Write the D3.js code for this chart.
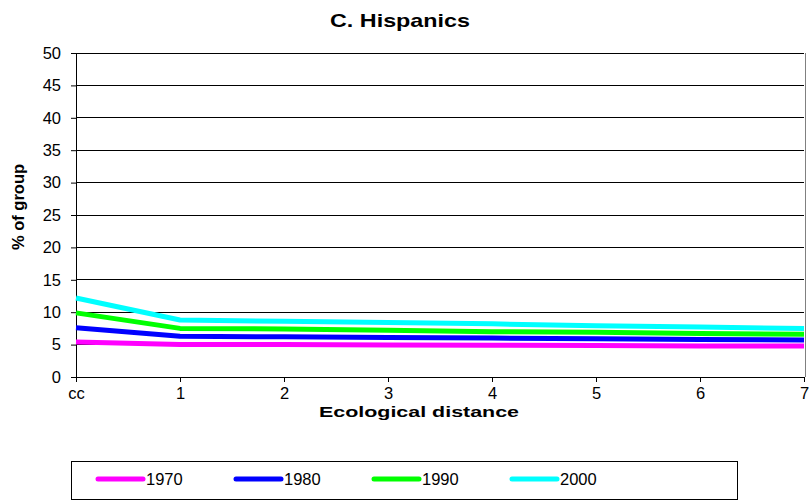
<!DOCTYPE html>
<html><head><meta charset="utf-8">
<script src="https://cdn.jsdelivr.net/npm/d3@7"></script>
<style>body{margin:0;background:#fff}svg{display:block}text{font-family:"Liberation Sans",Arial,sans-serif}</style>
</head><body><svg id="c" width="809" height="501"></svg>
<script>
const categories = ["cc","1","2","3","4","5","6","7"];
const yTicks = [0,5,10,15,20,25,30,35,40,45,50];
const seriesNames = ["1970","1980","1990","2000"];
const seriesColors = ["#ff00ff","#0000ff","#00ff00","#00ffff"];
const s1970 = [5.4,5.0,5.0,4.95,4.9,4.85,4.8,4.8];
const s1980 = [7.6,6.3,6.2,6.1,6.0,5.9,5.8,5.7];
const s1990 = [9.9,7.5,7.4,7.2,7.0,6.9,6.7,6.6];
const s2000 = [12.2,8.8,8.6,8.4,8.2,7.9,7.7,7.5];
const seriesValues = [s1970,s1980,s1990,s2000];

const svg = d3.select("#c");
const L=76,R=804,T=53,B=377;
const x = d3.scalePoint().domain(categories).range([L,R]);
const y = d3.scaleLinear().domain([0,50]).range([B,T]);

// gridlines
svg.append("g").selectAll("line").data(yTicks.filter(d=>d>0)).join("line")
  .attr("x1",L).attr("x2",R).attr("y1",d=>y(d)).attr("y2",d=>y(d))
  .attr("stroke","#000").attr("stroke-width",1).attr("shape-rendering","crispEdges");
// right border
svg.append("line").attr("x1",R+1).attr("x2",R+1).attr("y1",T).attr("y2",B)
  .attr("stroke","#808080").attr("shape-rendering","crispEdges");

// y axis
const ya = svg.append("g").attr("transform",`translate(${L},0)`)
  .call(d3.axisLeft(y).tickValues(yTicks).tickSize(5).tickPadding(10));
ya.select(".domain").attr("stroke","#000");
ya.selectAll("text").attr("font-size",16.5).attr("fill","#000").attr("font-family","Liberation Sans, Arial");
ya.selectAll("line").attr("stroke","#000");

// x axis
const xa = svg.append("g").attr("transform",`translate(0,${B})`)
  .call(d3.axisBottom(x).tickSize(5).tickSizeOuter(0).tickPadding(5));
xa.select(".domain").attr("stroke","#000");
xa.selectAll("text").attr("font-size",16.5).attr("fill","#000").attr("font-family","Liberation Sans, Arial");
xa.selectAll("line").attr("stroke","#000");

// lines
const line = d3.line().x((d,i)=>x(categories[i])).y(d=>y(d));
seriesValues.forEach((vals,k)=>{
  svg.append("path").datum(vals).attr("d",line).attr("fill","none")
    .attr("stroke",seriesColors[k]).attr("stroke-width",5).attr("stroke-linejoin","round");
});

// titles
svg.append("text").attr("x",400).attr("y",27).attr("text-anchor","middle")
  .attr("font-size",19).attr("font-weight","bold")
  .attr("textLength",140).attr("lengthAdjust","spacingAndGlyphs").text("C. Hispanics");
svg.append("text").attr("x",419).attr("y",417).attr("text-anchor","middle")
  .attr("font-size",15).attr("font-weight","bold")
  .attr("textLength",200).attr("lengthAdjust","spacingAndGlyphs").text("Ecological distance");
svg.append("text").attr("transform",`translate(24,207) rotate(-90)`).attr("text-anchor","middle")
  .attr("font-size",16.5).attr("font-weight","bold").text("% of group");

// legend
svg.append("rect").attr("x",71.5).attr("y",461.5).attr("width",666).attr("height",38)
  .attr("fill","#fff").attr("stroke","#000").attr("stroke-width",1);
const lg = svg.append("g").selectAll("g").data(seriesNames).join("g")
  .attr("transform",(d,i)=>`translate(${98+i*138},479)`);
lg.append("line").attr("x1",0).attr("x2",45).attr("stroke",(d,i)=>seriesColors[i])
  .attr("stroke-width",5).attr("stroke-linecap","round");
lg.append("text").attr("x",48).attr("y",6).attr("font-size",16.5).text(d=>d);
</script></body></html>
